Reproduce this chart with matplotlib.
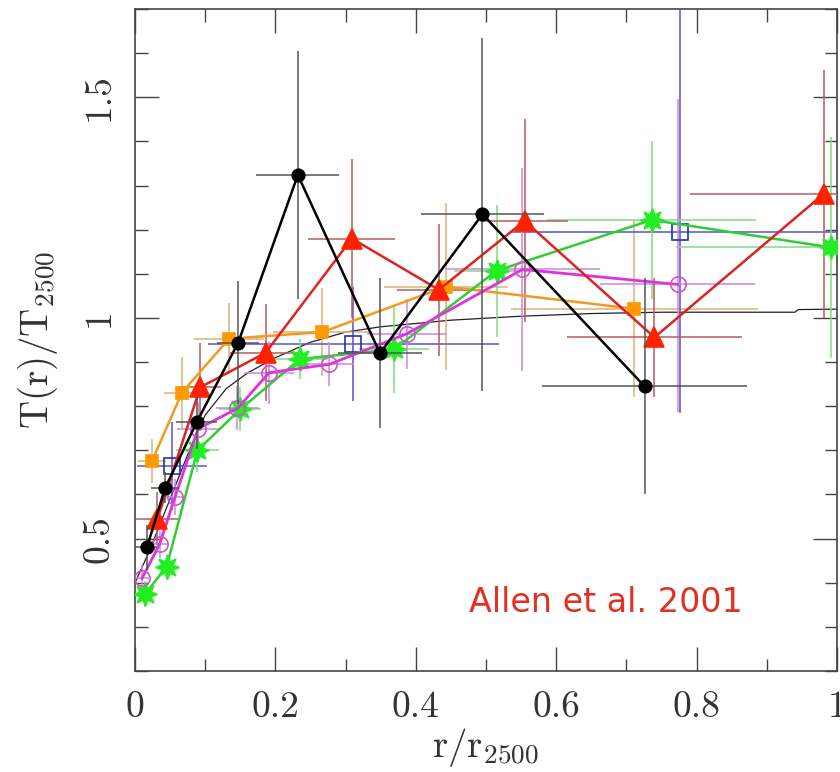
import matplotlib
matplotlib.use("Agg")
import matplotlib.pyplot as plt
from matplotlib.ticker import MultipleLocator

plt.rcParams['mathtext.fontset'] = 'cm'

# ---------------- data ----------------
# black filled circles
blk_x = [0.017, 0.043, 0.088, 0.147, 0.232, 0.349, 0.495, 0.726]
blk_y = [0.480, 0.615, 0.764, 0.944, 1.324, 0.920, 1.235, 0.845]
blk_xe = [0.015, 0.020, 0.029, 0.030, 0.059, 0.060, 0.088, 0.146]
blk_ye = [0.050, 0.035, 0.060, 0.140, 0.280, 0.170, 0.400, 0.245]

# red filled triangles
red_x = [0.032, 0.093, 0.186, 0.309, 0.433, 0.555, 0.740, 0.981]
red_y = [0.545, 0.843, 0.921, 1.180, 1.064, 1.220, 0.956, 1.281]
red_xe = [0.030, 0.030, 0.050, 0.062, 0.060, 0.062, 0.125, 0.190]
red_ye = [0.060, 0.100, 0.110, 0.180, 0.150, 0.230, 0.135, 0.280]

# orange filled squares
org_x = [0.024, 0.067, 0.134, 0.267, 0.443, 0.711]
org_y = [0.675, 0.831, 0.953, 0.968, 1.071, 1.021]
org_xe = [0.020, 0.025, 0.050, 0.070, 0.088, 0.176]
org_ye = [0.050, 0.080, 0.080, 0.100, 0.190, 0.200]

# blue open squares
blu_x = [0.053, 0.311, 0.776]
blu_y = [0.664, 0.941, 1.194]
blu_xe = [0.050, 0.207, 0.242]
blu_ye_lo = [0.100, 0.130, 0.410]
blu_ye_hi = [0.100, 0.130, 0.550]

# green stars
grn_x = [0.014, 0.045, 0.089, 0.150, 0.235, 0.369, 0.515, 0.736, 0.991]
grn_y = [0.374, 0.436, 0.700, 0.793, 0.907, 0.929, 1.107, 1.222, 1.160]
grn_xe = [0.010, 0.012, 0.030, 0.030, 0.040, 0.050, 0.060, 0.149, 0.220]
grn_ye = [0.030, 0.030, 0.050, 0.050, 0.045, 0.100, 0.150, 0.180, 0.250]

# magenta open circles
mag_x = [0.010, 0.035, 0.057, 0.090, 0.146, 0.191, 0.277, 0.387, 0.552, 0.773]
mag_y = [0.410, 0.487, 0.594, 0.749, 0.795, 0.876, 0.895, 0.964, 1.110, 1.076]
mag_xe = [0.010, 0.012, 0.015, 0.030, 0.030, 0.035, 0.035, 0.057, 0.110, 0.110]
mag_ye_lo = [0.030, 0.030, 0.040, 0.060, 0.050, 0.070, 0.050, 0.080, 0.230, 0.290]
mag_ye_hi = [0.030, 0.030, 0.040, 0.060, 0.050, 0.070, 0.050, 0.080, 0.230, 0.420]

# thin model curve
mod_x = [0.0, 0.02, 0.04, 0.06, 0.08, 0.10, 0.13, 0.16, 0.20, 0.25, 0.30, 0.35,
         0.45, 0.55, 0.65, 0.75, 0.94, 0.945, 1.0]
mod_y = [0.40, 0.47, 0.55, 0.63, 0.71, 0.78, 0.84, 0.875, 0.91, 0.945, 0.968, 0.98,
         0.995, 1.004, 1.010, 1.013, 1.013, 1.019, 1.020]

# ---------------- figure ----------------
fig = plt.figure(figsize=(8.4, 7.72), dpi=100)
ax = fig.add_axes([0.1607, 0.1308, 0.8357, 0.8575])

ax.plot(mod_x, mod_y, color='#222222', lw=0.9, zorder=2)

def series(x, y, xe, ye, ecol, lcol, marker, ms, mfc, mec, lw=1.8, line=True, z=3):
    ax.errorbar(x, y, xerr=xe, yerr=ye, fmt='none', ecolor=ecol, elinewidth=1.1,
                capsize=0, zorder=z)
    ax.plot(x, y, color=lcol if line else 'none', lw=lw if line else 0,
            marker=marker, ms=ms, mfc=mfc, mec=mec, mew=1.2, zorder=z + 1)

series(org_x, org_y, org_xe, org_ye, '#dcb27a', '#f29a20', 's', 9, '#ff9900', '#ff9900')
series(blu_x, blu_y, blu_xe, [blu_ye_lo, blu_ye_hi], '#5a52c8', '#2233aa', 's', 12,
       'none', '#2233aa', line=False)
series(grn_x, grn_y, grn_xe, grn_ye, '#80dd80', '#33cc33', (8, 1, 0), 17, '#22ee22', '#22ee22')
series(mag_x, mag_y, mag_xe, [mag_ye_lo, mag_ye_hi], '#cc88dd', '#dd33dd', 'o', 11,
       'none', '#cc55cc', lw=2.0)
series(red_x, red_y, red_xe, red_ye, '#b85a5a', '#dd2222', '^', 14, '#ff2200', '#ff2200')
series(blk_x, blk_y, blk_xe, blk_ye, '#555555', '#000000', 'o', 9, '#000000', '#000000',
       z=7)

ax.set_xlim(0, 1)
ax.set_ylim(0.2, 1.7)
ax.xaxis.set_major_locator(MultipleLocator(0.2))
ax.xaxis.set_minor_locator(MultipleLocator(0.1))
ax.yaxis.set_major_locator(MultipleLocator(0.5))
ax.yaxis.set_minor_locator(MultipleLocator(0.1))

ax.tick_params(which='both', direction='in', top=True, right=True, color='#444444', width=1.0)
ax.tick_params(which='major', length=17, pad=14)
ax.tick_params(which='minor', length=9)
for sp in ax.spines.values():
    sp.set_color('#444444')
    sp.set_linewidth(1.2)

ax.set_xticks([0, 0.2, 0.4, 0.6, 0.8, 1.0])
ax.set_xticklabels(['0', '0.2', '0.4', '0.6', '0.8', '1'], fontfamily='cmr10', fontsize=27,
                   color='#333333')
ax.set_yticks([0.5, 1.0, 1.5])
ax.set_yticklabels(['0.5', '1', '1.5'], fontfamily='cmr10', fontsize=27, rotation=90,
                   va='center', color='#333333')

ax.set_xlabel(r'$\mathrm{r/r_{2500}}$', fontsize=28, color='#333333', labelpad=2)
ax.set_ylabel(r'$\mathrm{T(r)/T_{2500}}$', fontsize=28, color='#333333', labelpad=16)

ax.text(0.671, 0.104, 'Allen et al. 2001', transform=ax.transAxes, fontsize=24,
        color='#e33020', ha='center', va='center', family='DejaVu Sans')

fig.savefig('out.png', dpi=100)
